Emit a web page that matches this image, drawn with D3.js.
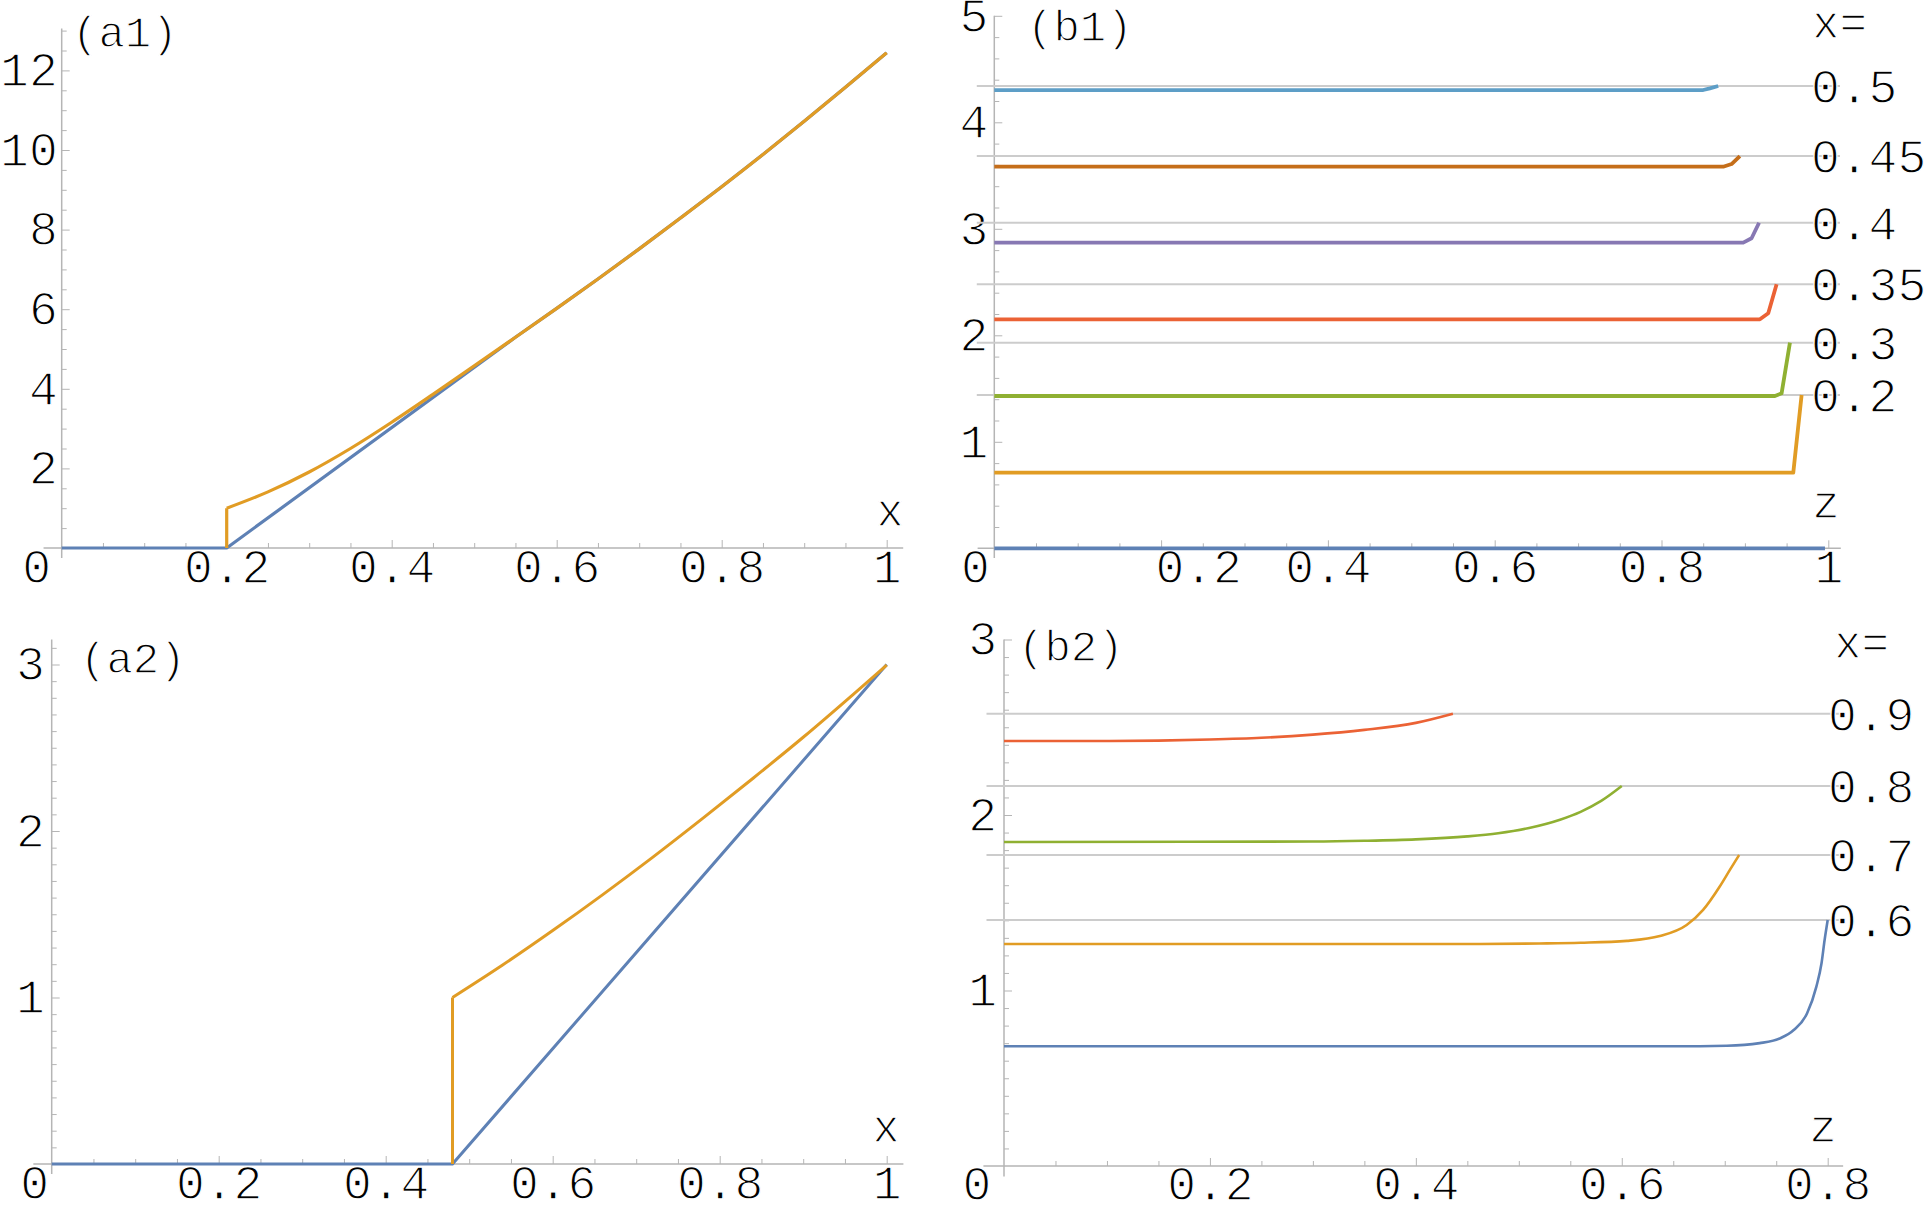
<!DOCTYPE html>
<html>
<head>
<meta charset="utf-8">
<script src="https://cdn.jsdelivr.net/npm/d3@7"></script>
<style>
  body { margin: 0; background: #fff; }
  svg text {
    font-family: "Liberation Mono", "Courier New", monospace;
    fill: #000;
    /* thin the strokes a little, the original font is lighter */
    stroke: #fff; stroke-width: 1.3px; paint-order: fill;
  }
</style>
</head>
<body>
<svg id="fig" width="1927" height="1206"></svg>
<script>
// values, [x, value] pairs

// (a1)
const a1Blue = [[0, 0], [0.2, 0], [0.55, 5.295], [0.6, 6.02], [0.65, 6.76], [0.7, 7.515], [0.75, 8.29],
  [0.8, 9.075], [0.85, 9.885], [0.9, 10.72], [0.95, 11.575], [1, 12.445]];
const a1Orange = [[0.2, 0], [0.2, 1.0], [0.25, 1.41], [0.3, 1.91], [0.35, 2.5], [0.4, 3.16], [0.45, 3.86],
  [0.5, 4.575], [0.55, 5.295], [0.6, 6.02], [0.65, 6.76], [0.7, 7.515], [0.75, 8.29], [0.8, 9.075],
  [0.85, 9.885], [0.9, 10.72], [0.95, 11.575], [1, 12.445]];
const a1XTicks = [0.2, 0.4, 0.6, 0.8, 1];
const a1YTicks = [2, 4, 6, 8, 10, 12];

// (a2)
const a2Blue = [[0, 0], [0.48, 0], [1, 3]];
const a2Orange = [[0.48, 0], [0.48, 1.0], [0.54, 1.195], [0.6, 1.402], [0.66, 1.618], [0.72, 1.843],
  [0.78, 2.077], [0.84, 2.317], [0.9, 2.563], [0.96, 2.821], [1, 2.997]];
const a2XTicks = [0.2, 0.4, 0.6, 0.8, 1];
const a2YTicks = [1, 2, 3];

// (b1) one curve per x value, bottom to top
const b1Names = ["0", "0.2", "0.3", "0.35", "0.4", "0.45", "0.5"];
const b1Curves = [
  [[0, 0], [0.996, 0]],
  [[0, 0.71], [0.958, 0.71], [0.968, 1.439]],
  [[0, 1.43], [0.936, 1.43], [0.944, 1.455], [0.954, 1.931]],
  [[0, 2.15], [0.918, 2.15], [0.928, 2.207], [0.938, 2.479]],
  [[0, 2.87], [0.898, 2.87], [0.908, 2.911], [0.917, 3.057]],
  [[0, 3.583], [0.874, 3.583], [0.884, 3.608], [0.894, 3.683]],
  [[0, 4.303], [0.85, 4.303], [0.858, 4.319], [0.868, 4.341]]
];
const b1Levels = [1.439, 1.931, 2.479, 3.057, 3.683, 4.341];
const b1LevelLabels = ["0.2", "0.3", "0.35", "0.4", "0.45", "0.5"];
const b1XTicks = [0.2, 0.4, 0.6, 0.8, 1];
const b1YTicks = [1, 2, 3, 4, 5];

// (b2)
const b2Names = ["0.6", "0.7", "0.8", "0.9"];
const b2Curves = [
  [[0, 0.682], [0.65, 0.682], [0.702, 0.685], [0.734, 0.7], [0.754, 0.728], [0.767, 0.775], [0.78, 0.87],
    [0.789, 1.022], [0.794, 1.155], [0.797, 1.288], [0.8, 1.402]],
  [[0, 1.265], [0.45, 1.265], [0.52, 1.268], [0.56, 1.272], [0.605, 1.283], [0.637, 1.31], [0.663, 1.373],
    [0.679, 1.459], [0.695, 1.591], [0.705, 1.687], [0.714, 1.772]],
  [[0, 1.846], [0.3, 1.849], [0.35, 1.853], [0.4, 1.861], [0.45, 1.878], [0.48, 1.896], [0.51, 1.926],
    [0.54, 1.973], [0.56, 2.018], [0.58, 2.08], [0.6, 2.165]],
  [[0, 2.422], [0.1, 2.422], [0.15, 2.424], [0.2, 2.43], [0.25, 2.44], [0.3, 2.458], [0.35, 2.485],
    [0.4, 2.525], [0.436, 2.577]]
];
const b2Levels = [1.402, 1.772, 2.165, 2.577];
const b2LevelLabels = ["0.6", "0.7", "0.8", "0.9"];
const b2XTicks = [0.2, 0.4, 0.6, 0.8];
const b2YTicks = [1, 2, 3];

// Mathematica default colours
const palette = ["#5E81B5", "#E19C24", "#8FB032", "#EB6235", "#8778B3", "#C56E1A", "#5D9EC7"];
const axisGray = "#b5b5b5";
const fontSize = 48;

const svg = d3.select("#fig");

// split a curve where it jumps straight up, so the smooth part stays smooth
function pieces(pts) {
  const out = [];
  let cur = [pts[0]];
  for (let i = 1; i < pts.length; i++) {
    if (pts[i][0] === pts[i - 1][0]) {
      out.push(cur);
      out.push([pts[i - 1], pts[i]]);
      cur = [pts[i]];
    } else {
      cur.push(pts[i]);
    }
  }
  out.push(cur);
  return out.filter(a => a.length > 1);
}

function drawAxes(p) {
  const g = svg.append("g");
  const x = p.x, y = p.y;

  // minor ticks first
  const gxm = g.append("g").attr("transform", "translate(0," + y(0) + ")").attr("color", axisGray)
    .call(d3.axisBottom(x).tickValues(p.xMinor).tickSize(-5).tickFormat(""));
  gxm.select(".domain").remove();
  const gym = g.append("g").attr("transform", "translate(" + x(0) + ",0)").attr("color", axisGray)
    .call(d3.axisLeft(y).tickValues(p.yMinor).tickSize(-5).tickFormat(""));
  gym.select(".domain").remove();

  // major ticks with labels
  const gx = g.append("g").attr("transform", "translate(0," + y(0) + ")").attr("color", axisGray)
    .call(d3.axisBottom(x).tickValues(p.xTicks).tickSize(-8).tickPadding(p.xPad).tickFormat(d3.format("~g")));
  gx.select(".domain").remove();
  gx.attr("font-size", fontSize).attr("font-family", null);
  gx.selectAll("text").attr("fill", "#000");
  if (p.shiftLabel) {
    gx.selectAll(".tick text").filter(d => d === p.shiftLabel.value).attr("dx", p.shiftLabel.dx);
  }

  const gy = g.append("g").attr("transform", "translate(" + x(0) + ",0)").attr("color", axisGray)
    .call(d3.axisLeft(y).tickValues(p.yTicks).tickSize(-8).tickPadding(p.yPad).tickFormat(d3.format("~g")));
  gy.select(".domain").remove();
  gy.attr("font-size", fontSize).attr("font-family", null);
  gy.selectAll("text").attr("fill", "#000");

  // axis lines, a little past the origin like Mathematica
  g.append("line")
    .attr("x1", x(p.xExt[0])).attr("x2", x(p.xExt[1]))
    .attr("y1", y(0)).attr("y2", y(0))
    .attr("stroke", axisGray).attr("stroke-width", 1.5);
  g.append("line")
    .attr("x1", x(0)).attr("x2", x(0))
    .attr("y1", y(p.yExt[0])).attr("y2", y(p.yExt[1]))
    .attr("stroke", axisGray).attr("stroke-width", 1.5);

  // the single "0" at the corner
  g.append("text")
    .attr("x", x(0) - p.zeroOffset).attr("y", y(0) + 34 + p.xPad)
    .attr("text-anchor", "middle").attr("font-size", fontSize)
    .text("0");
}

function drawPanel(p) {
  drawAxes(p);
  const straight = d3.line().x(d => p.x(d[0])).y(d => p.y(d[1]));
  const smooth = d3.line().x(d => p.x(d[0])).y(d => p.y(d[1])).curve(d3.curveMonotoneX);

  // reference lines with their labels
  if (p.levels) {
    svg.append("g").selectAll("line")
      .data(p.levels)
      .join("line")
      .attr("x1", p.x(p.refExt[0])).attr("x2", p.x(p.refExt[1]))
      .attr("y1", d => p.y(d)).attr("y2", d => p.y(d))
      .attr("stroke", "#cccccc").attr("stroke-width", 2);
    svg.append("g").selectAll("text")
      .data(p.levels)
      .join("text")
      .attr("x", p.refTextX)
      .attr("y", d => p.y(d) + 17)
      .attr("font-size", fontSize)
      .text((d, i) => p.levelLabels[i]);
  }

  svg.append("g").selectAll("path")
    .data(p.curves)
    .join("path")
    .attr("d", (d, i) => {
      const gen = p.smooth && p.smooth[i] ? smooth : straight;
      return pieces(d).map(gen).join("");
    })
    .attr("fill", "none")
    .attr("stroke", (d, i) => p.colors[i])
    .attr("stroke-width", p.width)
    .attr("stroke-linejoin", "round");

  // panel tag and axis names
  svg.append("text").attr("x", p.tag[1]).attr("y", p.tag[2]).attr("font-size", 44).text(p.tag[0]);
  p.names.forEach(n => {
    svg.append("text").attr("x", n[1]).attr("y", n[2]).attr("font-size", 46)
      .attr("text-anchor", n[3] || "middle").text(n[0]);
  });
}

const minorOf = (step, max, every) =>
  d3.range(step, max + 1e-6, step).filter(v => Math.abs(v / every - Math.round(v / every)) > 1e-6);

drawPanel({
  x: d3.scaleLinear().domain([0, 1]).range([61.7, 886.7]),
  y: d3.scaleLinear().domain([0, 12]).range([548, 70.4]),
  xExt: [-0.022, 1.02], yExt: [-0.25, 13.05],
  xTicks: a1XTicks, xMinor: minorOf(0.05, 1, 0.2), xPad: 1,
  yTicks: a1YTicks, yMinor: minorOf(0.5, 13, 2), yPad: 4,
  zeroOffset: 25,
  curves: [a1Blue, a1Orange], colors: [palette[0], palette[1]], width: 3.2,
  smooth: [false, true],
  tag: ["(a1)", 72, 47], names: [["x", 890, 526]]
});

drawPanel({
  x: d3.scaleLinear().domain([0, 1]).range([51.7, 886.7]),
  y: d3.scaleLinear().domain([0, 3]).range([1164, 664.5]),
  xExt: [-0.022, 1.02], yExt: [-0.06, 3.15],
  xTicks: a2XTicks, xMinor: minorOf(0.05, 1, 0.2), xPad: 1,
  yTicks: a2YTicks, yMinor: minorOf(0.1, 3.1, 1), yPad: 7,
  zeroOffset: 17,
  curves: [a2Blue, a2Orange], colors: [palette[0], palette[1]], width: 3,
  smooth: [false, true],
  tag: ["(a2)", 80, 673], names: [["x", 886, 1142]]
});

drawPanel({
  x: d3.scaleLinear().domain([0, 1]).range([994.3, 1828.3]),
  y: d3.scaleLinear().domain([0, 5]).range([548.3, 15.8]),
  xExt: [-0.02, 1.015], yExt: [-0.09, 5.0],
  xTicks: b1XTicks, xMinor: minorOf(0.05, 1, 0.2), xPad: 1,
  yTicks: b1YTicks, yMinor: minorOf(0.2, 5, 1), yPad: 6,
  shiftLabel: { value: 0.2, dx: 37 },
  zeroOffset: 19,
  levels: b1Levels, levelLabels: b1LevelLabels, refExt: [-0.021, 1.014], refTextX: 1811,
  curves: b1Curves, colors: [palette[0], palette[1], palette[2], palette[3], palette[4], palette[5], palette[6]],
  width: 3.8,
  tag: ["(b1)", 1027, 41], names: [["x=", 1812, 38, "start"], ["z", 1826, 518]]
});

drawPanel({
  x: d3.scaleLinear().domain([0, 0.8]).range([1004, 1827.7]),
  y: d3.scaleLinear().domain([0, 3]).range([1166, 639.5]),
  xExt: [-0.02, 0.815], yExt: [-0.06, 3.0],
  xTicks: b2XTicks, xMinor: minorOf(0.05, 0.8, 0.2), xPad: 0,
  yTicks: b2YTicks, yMinor: minorOf(0.1, 3, 1), yPad: 7,
  zeroOffset: 27,
  levels: b2Levels, levelLabels: b2LevelLabels, refExt: [-0.017, 0.815], refTextX: 1828,
  curves: b2Curves, colors: [palette[0], palette[1], palette[2], palette[3]], width: 2.6,
  smooth: [true, true, true, true],
  tag: ["(b2)", 1018, 661], names: [["x=", 1834, 658, "start"], ["z", 1823, 1142]]
});
</script>
</body>
</html>
